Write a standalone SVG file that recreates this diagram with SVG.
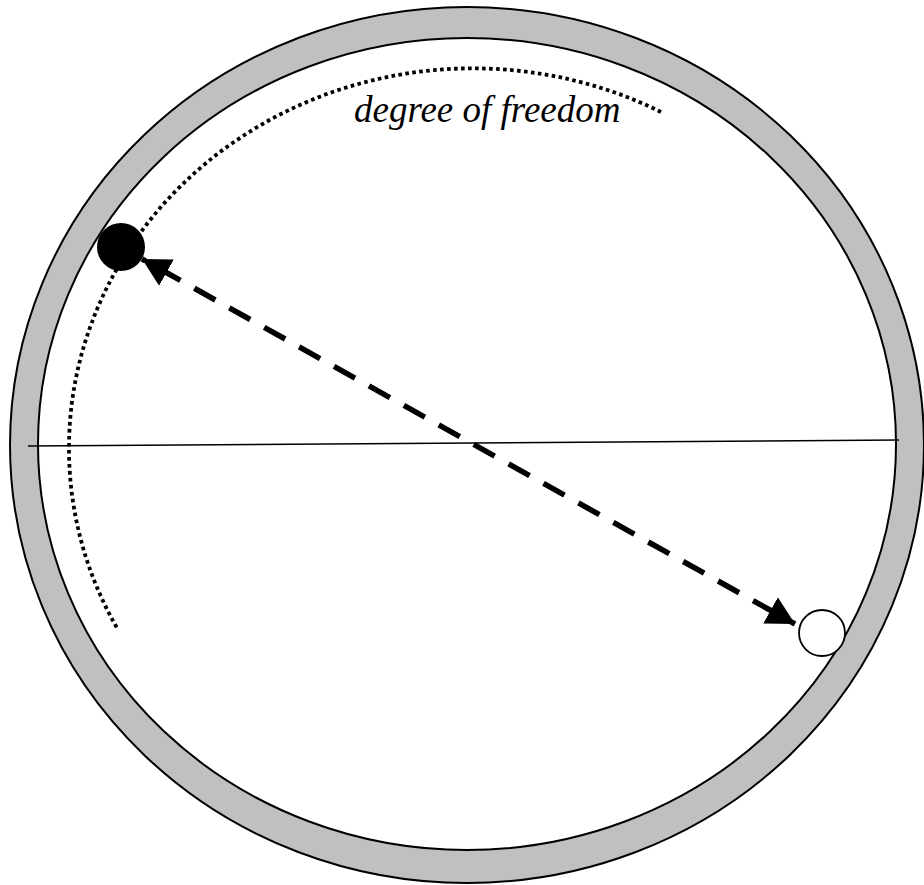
<svg xmlns="http://www.w3.org/2000/svg" width="924" height="885" viewBox="0 0 924 885">
<style>
.ring{fill:#c0c0c0;stroke:#000;stroke-width:2}
.inner{fill:#fff;stroke:#000;stroke-width:2}
.dof{fill:none;stroke:#000;stroke-width:3.8;stroke-dasharray:3.6 3.4}
.lbl{font-family:"Liberation Serif","Times New Roman",serif;font-style:italic;font-size:37px;fill:#000}
</style>
<defs>
<marker id="ah" viewBox="0 0 28 30" refX="28" refY="15" markerWidth="28" markerHeight="30" markerUnits="userSpaceOnUse" orient="auto-start-reverse">
<path d="M0,0 L28,15 L0,30 Z" fill="#000"/>
</marker>
</defs>
<g id="wheel">
<ellipse class="ring" cx="467" cy="445" rx="457" ry="438"/>
<ellipse class="inner" cx="467" cy="444" rx="429" ry="406"/>
</g>
<g id="axis">
<line x1="28" y1="446" x2="899" y2="440" stroke="#000" stroke-width="1.5"/>
</g>
<g id="dof-arc">
<path class="dof" d="M661,112 A404,380 0 0,0 117,628"/>
</g>
<g id="label">
<text class="lbl" x="354" y="122">degree of freedom</text>
</g>
<g id="connectors">
<line x1="142" y1="259" x2="795" y2="624" stroke="#000" stroke-width="5.5" stroke-dasharray="24 16" stroke-dashoffset="-20" marker-start="url(#ah)" marker-end="url(#ah)"/>
</g>
<g id="mass-filled">
<circle cx="121" cy="247" r="24" fill="#000"/>
</g>
<g id="mass-empty">
<circle cx="822" cy="633" r="23" fill="#fff" stroke="#000" stroke-width="1.8"/>
</g>
</svg>
